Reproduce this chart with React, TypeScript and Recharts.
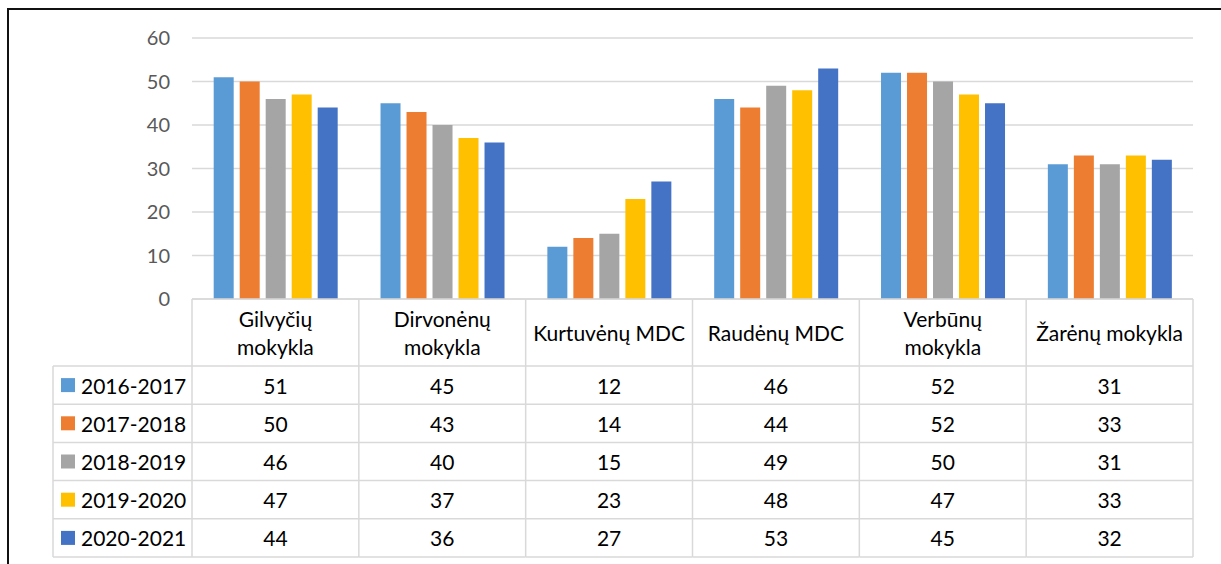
import React from 'react';
import { BarChart, Bar, XAxis, YAxis, CartesianGrid } from 'recharts';

const categories = ['Gilvyčių mokykla', 'Dirvonėnų mokykla', 'Kurtuvėnų MDC', 'Raudėnų MDC', 'Verbūnų mokykla', 'Žarėnų mokykla'];
const categoryLines = [
  ['Gilvyčių', 'mokykla'],
  ['Dirvonėnų', 'mokykla'],
  ['Kurtuvėnų MDC'],
  ['Raudėnų MDC'],
  ['Verbūnų', 'mokykla'],
  ['Žarėnų mokykla'],
];
const seriesNames = ['2016-2017', '2017-2018', '2018-2019', '2019-2020', '2020-2021'];
const s2016 = [51, 45, 12, 46, 52, 31];
const s2017 = [50, 43, 14, 44, 52, 33];
const s2018 = [46, 40, 15, 49, 50, 31];
const s2019 = [47, 37, 23, 48, 47, 33];
const s2020 = [44, 36, 27, 53, 45, 32];
const yTicks = [0, 10, 20, 30, 40, 50, 60];

const seriesValues = [s2016, s2017, s2018, s2019, s2020];
const colors = ['#5B9BD5', '#ED7D31', '#A5A5A5', '#FFC000', '#4472C4'];
const keys = ['a', 'b', 'c', 'd', 'e'];

const data = categories.map((name, i) => {
  const row: Record<string, any> = { name, idx: i };
  keys.forEach((k, j) => { row[k] = seriesValues[j][i]; });
  return row;
});

const W = 1221;
const H = 564;
const PLOT_L = 192;
const PLOT_R = 1193;
const PLOT_T = 38;
const PLOT_B = 299;
const BAND = (PLOT_R - PLOT_L) / categories.length;
const HEAD_H = 67;
const ROW_H = 38.2;
const LEG_L = 53;
const FONT = 'Lato, "Open Sans", sans-serif';
const TXT = 21;
const LINE = '#d9d9d9';

// one column of the data table, placed under its category by the x scale
const TableColumn = (props: any) => {
  const { x, payload } = props;
  const i = payload.index;
  const left = x - BAND / 2;
  const right = x + BAND / 2;
  const bottom = PLOT_B + HEAD_H + ROW_H * seriesNames.length;
  const lines = categoryLines[i];
  const headMid = PLOT_B + HEAD_H / 2;
  return (
    <g>
      <line x1={left} x2={right} y1={PLOT_B} y2={PLOT_B} stroke={LINE} strokeWidth={1.5} />
      <line x1={left} x2={left} y1={PLOT_B} y2={bottom} stroke={LINE} strokeWidth={1.5} />
      {i === categories.length - 1 && (
        <line x1={right} x2={right} y1={PLOT_B} y2={bottom} stroke={LINE} strokeWidth={1.5} />
      )}
      {seriesNames.map((_, r) => {
        const yy = PLOT_B + HEAD_H + ROW_H * r;
        return <line key={r} x1={left} x2={right} y1={yy} y2={yy} stroke={LINE} strokeWidth={1.5} />;
      })}
      <line x1={left} x2={right} y1={bottom} y2={bottom} stroke={LINE} strokeWidth={1.5} />
      {lines.map((t, k) => (
        <text
          key={k}
          x={x}
          y={headMid + (k - (lines.length - 1) / 2) * 28}
          textAnchor="middle"
          dominantBaseline="central"
          fontSize={TXT}
          fontFamily={FONT}
          fill="#000"
        >
          {t}
        </text>
      ))}
      {seriesValues.map((vals, r) => (
        <text
          key={r}
          x={x}
          y={PLOT_B + HEAD_H + ROW_H * r + ROW_H / 2}
          textAnchor="middle"
          dominantBaseline="central"
          fontSize={TXT}
          fontFamily={FONT}
          fill="#000"
        >
          {vals[i]}
        </text>
      ))}
    </g>
  );
};

const LegendColumn = () => {
  const top = PLOT_B + HEAD_H;
  const bottom = top + ROW_H * seriesNames.length;
  return (
    <svg width={W} height={H} style={{ position: 'absolute', left: 0, top: 0, pointerEvents: 'none' }}>
      <line x1={LEG_L} x2={LEG_L} y1={top} y2={bottom} stroke={LINE} strokeWidth={1.5} />
      {seriesNames.map((n, r) => {
        const yy = top + ROW_H * r;
        return (
          <g key={n}>
            <line x1={LEG_L} x2={PLOT_L} y1={yy} y2={yy} stroke={LINE} strokeWidth={1.5} />
            <rect x={61} y={yy + ROW_H / 2 - 7} width={14} height={14} fill={colors[r]} />
            <text x={81} y={yy + ROW_H / 2} dominantBaseline="central" fontSize={TXT} fontFamily={FONT} fill="#000">
              {n}
            </text>
          </g>
        );
      })}
      <line x1={LEG_L} x2={PLOT_L} y1={bottom} y2={bottom} stroke={LINE} strokeWidth={1.5} />
    </svg>
  );
};

export default function App() {
  return (
    <div style={{ position: 'absolute', left: 0, top: 0, width: W, height: H, overflow: 'hidden', background: '#fff' }}>
      <div style={{ position: 'absolute', left: 7, top: 8, width: 1400, height: 800, border: '2px solid #111' }} />
      <div style={{ position: 'absolute', left: 0, top: 0 }}>
        <BarChart
          width={W}
          height={H}
          data={data}
          margin={{ top: PLOT_T, right: W - PLOT_R, bottom: 0, left: 132 }}
          barCategoryGap="13%"
          barGap={6}
        >
          <CartesianGrid vertical={false} stroke={LINE} strokeWidth={1.5} />
          <XAxis
            dataKey="name"
            height={H - PLOT_B}
            axisLine={false}
            tickLine={false}
            tickSize={0}
            interval={0}
            tick={<TableColumn />}
          />
          <YAxis
            width={PLOT_L - 132}
            domain={[0, 60]}
            ticks={yTicks}
            axisLine={false}
            tickLine={false}
            tickSize={0}
            tickMargin={22}
            tick={{ fontSize: 20, fontFamily: FONT, fill: '#595959' }}
          />
          {keys.map((k, j) => (
            <Bar key={k} dataKey={k} name={seriesNames[j]} fill={colors[j]} isAnimationActive={false} />
          ))}
        </BarChart>
      </div>
      <LegendColumn />
    </div>
  );
}
